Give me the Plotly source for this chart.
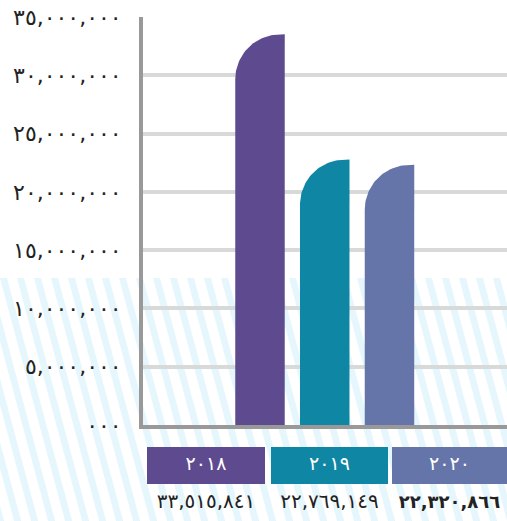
import base64
import numpy as np
import plotly.graph_objects as go

# ---- data ----
categories = ["٢٠١٨", "٢٠١٩", "٢٠٢٠"]
values = [33515841, 22769149, 22320866]
value_labels = ["٣٣,٥١٥,٨٤١", "٢٢,٧٦٩,١٤٩", "<b>٢٢,٣٢٠,٨٦٦</b>"]
colors = ["#5e4a8f", "#0e86a4", "#6575aa"]
tick_vals = [0, 5000000, 10000000, 15000000, 20000000, 25000000, 30000000, 35000000]
tick_text = ["٠٠٠", "٥,٠٠٠,٠٠٠", "١٠,٠٠٠,٠٠٠", "١٥,٠٠٠,٠٠٠", "٢٠,٠٠٠,٠٠٠",
             "٢٥,٠٠٠,٠٠٠", "٣٠,٠٠٠,٠٠٠", "٣٥,٠٠٠,٠٠٠"]

W, H = 507, 521
L, R, T, B = 143, 0, 17, 96
plot_w = W - L - R
plot_h = H - T - B
y_max = 35000000
x_range = [-1.807, 3.815]
bar_w = 0.764
px_per_x = plot_w / (x_range[1] - x_range[0])
px_per_y = plot_h / y_max
rx = 45 / px_per_x
ry = 45 / px_per_y

fig = go.Figure()

# bars with rounded top-left corner, built in data coordinates
t = np.linspace(0, np.pi / 2, 40)
for i, (v, c) in enumerate(zip(values, colors)):
    xl, xr = i - bar_w / 2, i + bar_w / 2
    cx, cy = xl + rx, v - ry
    xs = [xl, xr, xr] + list(cx - rx * np.sin(t)) + [xl]
    ys = [0, 0, v] + list(cy + ry * np.cos(t)) + [0]
    fig.add_trace(go.Scatter(x=xs, y=ys, fill="toself", fillcolor=c, mode="lines",
                             line=dict(width=0, color=c), hoverinfo="skip",
                             name=categories[i], showlegend=False))

# striped background image (paper covers the whole figure: margins are 0)
svg = ("<svg xmlns='http://www.w3.org/2000/svg' width='507' height='243' viewBox='0 0 507 243'>"
       "<defs><pattern id='p' width='17' height='243' patternUnits='userSpaceOnUse' "
       "patternTransform='skewX(15)'><rect x='0' y='0' width='7' height='243' fill='#e5f6fc'/>"
       "</pattern></defs><rect width='507' height='243' fill='url(#p)'/></svg>")
src = "data:image/svg+xml;base64," + base64.b64encode(svg.encode()).decode()
stripe_top = 278
fig.add_layout_image(dict(source=src, xref="paper", yref="paper",
                          x=0, y=(H - stripe_top) / H, sizex=1, sizey=(H - stripe_top) / H,
                          xanchor="left", yanchor="top", sizing="stretch", layer="below"))

# category boxes & labels on an overlay subplot spanning the whole figure (pixel units)
box_px = [(147, 265), (271, 388), (392, 507)]
box_top, box_bot = 447, 484
value_y = 503
box_cx = [(a + b) / 2 for a, b in box_px]
for (x0, x1), c in zip(box_px, colors):
    fig.add_shape(type="rect", xref="x2", yref="y2", x0=x0, x1=x1, y0=box_top, y1=box_bot,
                  fillcolor=c, line=dict(width=0), layer="below")
fig.add_trace(go.Scatter(x=box_cx, y=[(box_top + box_bot) / 2] * 3, text=categories,
                         mode="text", textposition="middle center", xaxis="x2", yaxis="y2",
                         textfont=dict(size=19, color="white", family="DejaVu Sans"),
                         hoverinfo="skip", showlegend=False, cliponaxis=False))
fig.add_trace(go.Scatter(x=box_cx, y=[value_y] * 3, text=value_labels,
                         mode="text", textposition="middle center", xaxis="x2", yaxis="y2",
                         textfont=dict(size=[20, 20, 18], color="#222222", family="DejaVu Sans"),
                         hoverinfo="skip", showlegend=False, cliponaxis=False))

fig.update_layout(
    width=W, height=H,
    margin=dict(l=0, r=0, t=0, b=0, autoexpand=False),
    paper_bgcolor="white",
    plot_bgcolor="rgba(0,0,0,0)",
    font=dict(family="DejaVu Sans", color="#222222"),
    showlegend=False,
    xaxis=dict(domain=[L / W, 1 - R / W], range=x_range, showgrid=False, zeroline=False,
               showticklabels=False, showline=True, linecolor="#999999", linewidth=4,
               fixedrange=True, anchor="y", automargin=False),
    yaxis=dict(domain=[B / H, 1 - T / H], range=[0, y_max], tickvals=tick_vals,
               ticktext=tick_text, showgrid=True, gridcolor="#d8d9d9", gridwidth=4,
               zeroline=False, showline=True, linecolor="#999999", linewidth=4,
               tickfont=dict(size=22, color="#222222", family="DejaVu Sans"),
               ticklabelstandoff=13, fixedrange=True, anchor="x", automargin=False),
    xaxis2=dict(domain=[0, 1], range=[0, W], visible=False, fixedrange=True, anchor="y2",
                automargin=False),
    yaxis2=dict(domain=[0, 1], range=[H, 0], visible=False, fixedrange=True, anchor="x2",
                automargin=False),
)

fig.write_html("out.html", config={"displayModeBar": False},
               post_script="document.body.style.margin='0';")
